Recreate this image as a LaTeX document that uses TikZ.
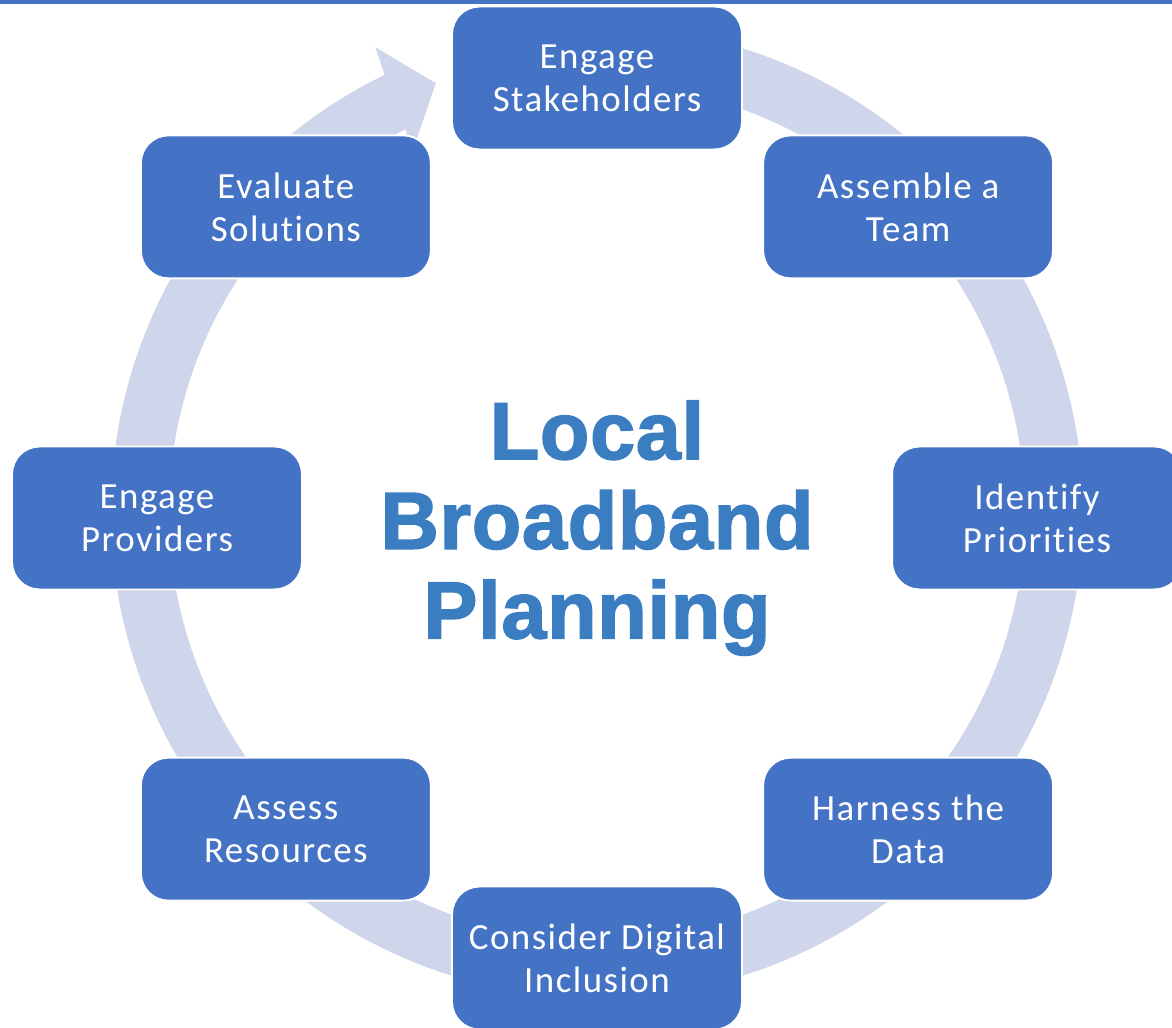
\documentclass[tikz,border=0pt]{standalone}
\usepackage{fontspec}
\newfontfamily\boxfont[LetterSpace=4, Ligatures=NoCommon]{Carlito}
\newfontfamily\bannerfont[LetterSpace=1]{Liberation Sans}
\definecolor{boxblue}{HTML}{4472C4}
\definecolor{ringgray}{HTML}{CFD5EA}
\definecolor{textblue}{HTML}{3A7DC1}
% fill and stroke the glyphs for a heavier look
\newcommand\heavytext[1]{\special{pdf:code 2 Tr 0.9 w}#1\special{pdf:code 0 Tr}}

\begin{document}
\begin{tikzpicture}[
    x=0.02cm, y=0.02cm,
    stage/.style={
        rectangle,
        rounded corners=0.55cm,
        minimum width=5.8cm,
        minimum height=2.86cm,
        draw=white,
        line width=1.1pt,
        fill=boxblue,
        text=white,
        align=center,
        font=\boxfont\fontsize{21}{24.5}\selectfont
    },
    ring/.style={fill=ringgray},
    banner/.style={text=textblue, align=center, font=\bannerfont\bfseries\fontsize{46}{51}\selectfont}
]

\useasboundingbox (-597,-509) rectangle (575,518);
\clip (-597,-509) rectangle (575,518);

% top rule
\fill[boxblue] (-597,513.5) rectangle (575,518);

% cycle arrow behind the stages
\fill[ring, shift={(0,6)}] (95:428) arc[start angle=95, end angle=-243.5, radius=428]
    -- (-242:399) -- (-249.4:458) -- (-244.5:515) -- (-244.1:486)
    arc[start angle=-244.1, end angle=95, radius=486] -- cycle;

\node[stage] (es) at (90:440) {Engage\\Stakeholders};
\node[stage] (team) at (45:440) {Assemble a\\Team};
\node[stage] (ip) at (0:440) {Identify\\Priorities};
\node[stage] (hd) at (-45:440) {Harness the\\Data};
\node[stage] (cdi) at (-90:440) {Consider Digital\\Inclusion};
\node[stage] (ar) at (-135:440) {Assess\\Resources};
\node[stage] (ep) at (180:440) {Engage\\Providers};
\node[stage] (evs) at (135:440) {Evaluate\\Solutions};

\node[banner] (lbp) at (0,-10) {\heavytext{Local}\\\heavytext{Broadband}\\\heavytext{Planning}};

\end{tikzpicture}
\end{document}
